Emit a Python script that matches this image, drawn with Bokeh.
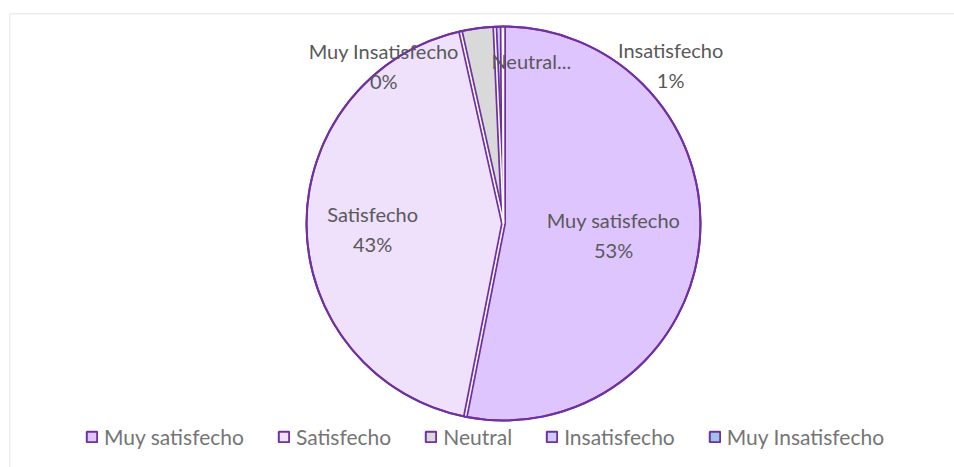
import math
from bokeh.plotting import figure
from bokeh.models import Range1d, Legend, LegendItem, ColumnDataSource, Span
from bokeh.core.properties import value
from bokeh.embed import file_html
from bokeh.resources import INLINE

# ---- data ----
categories = ["Muy satisfecho", "Satisfecho", "Neutral", "Insatisfecho", "Muy Insatisfecho"]
values = [53.1, 43.4, 2.8, 0.6, 0.1]
label_names = ["Muy satisfecho", "Satisfecho", "Neutral...", "Insatisfecho", "Muy Insatisfecho"]
show_pct = [True, True, False, True, True]

# ---- style / layout ----
colors = ["#DFC5FE", "#EFE0FB", "#D9D9D9", "#CCCCFF", "#9DC3E6"]
edge = "#7030A0"
R = 197
# label placement: (compass angle in degrees clockwise from top, distance from centre)
label_place = [(96.2, 110.7), (267.8, 131), (9.7, 165), (46.6, 230), (322.8, 198)]
FONT = "Lato"

total = sum(values)
fracs = [v / total for v in values]
cum = [0.0]
for f in fracs:
    cum.append(cum[-1] + f)
start = [math.pi / 2 - 2 * math.pi * c for c in cum[:-1]]
end = [math.pi / 2 - 2 * math.pi * c for c in cum[1:]]

src = ColumnDataSource(dict(x=[0] * len(values), y=[0] * len(values), start=start, end=end,
                            color=colors, cat=categories))

X0, X1, Y0, Y1 = -494, 451, -244, 210
p = figure(width=954, height=467, output_backend="svg", toolbar_location=None,
           x_axis_location=None, y_axis_location=None,
           x_range=Range1d(X0, X1), y_range=Range1d(Y0, Y1),
           min_border_left=9, min_border_top=13, min_border_right=0, min_border_bottom=0)
p.grid.visible = False
p.outline_line_color = None
p.background_fill_color = "white"
p.border_fill_color = "white"

# chart-area border (only top and left edges visible in the reference)
p.add_layout(Span(location=Y1, dimension="width", line_color="#D9D9D9", line_width=1.5))
p.add_layout(Span(location=X0, dimension="height", line_color="#D9D9D9", line_width=1.5))

w = p.wedge(x="x", y="y", radius=R, start_angle="start", end_angle="end", direction="clock",
            fill_color="color", line_color=edge, line_width=2, source=src)

# radial double edges
bound_angles = [math.pi / 2 - 2 * math.pi * c for c in cum[:-1]]
p.ray(x=[0] * len(bound_angles), y=[0] * len(bound_angles), length=R, angle=bound_angles,
      line_color=edge, line_width=5)
p.ray(x=[0] * len(bound_angles), y=[0] * len(bound_angles), length=R - 1, angle=bound_angles,
      line_color="white", line_width=1.5)
p.circle(x=[0], y=[0], radius=R, fill_color=None, line_color=edge, line_width=2)

# labels
nx, ny, nt, px, py, pt = [], [], [], [], [], []
for i, (ang, dist) in enumerate(label_place):
    a = math.radians(ang)
    cx = dist * math.sin(a)
    cy = dist * math.cos(a)
    if show_pct[i]:
        nx.append(cx); ny.append(cy + 15); nt.append(label_names[i])
        px.append(cx); py.append(cy - 15); pt.append(f"{round(values[i] / total * 100)}%")
    else:
        nx.append(cx); ny.append(cy); nt.append(label_names[i])
p.text(x=nx, y=ny, text=nt, text_font=value(FONT), text_font_size="20px", text_color="#595959",
       text_align="center", text_baseline="middle")
p.text(x=px, y=py, text=pt, text_font=value(FONT), text_font_size="20px", text_color="#595959",
       text_align="center", text_baseline="middle")

items = [LegendItem(label=c, renderers=[w], index=i) for i, c in enumerate(categories)]
legend = Legend(items=items, orientation="horizontal", location=(76, 18))
legend.border_line_color = None
legend.background_fill_alpha = 0
legend.padding = 0
legend.margin = 0
legend.spacing = 33
legend.label_standoff = 6
legend.glyph_width = 13
legend.glyph_height = 13
legend.label_height = 26
legend.label_text_font = FONT
legend.label_text_font_size = "21px"
legend.label_text_color = "#757575"
p.add_layout(legend)

open("out.html", "w").write(file_html(p, INLINE))
